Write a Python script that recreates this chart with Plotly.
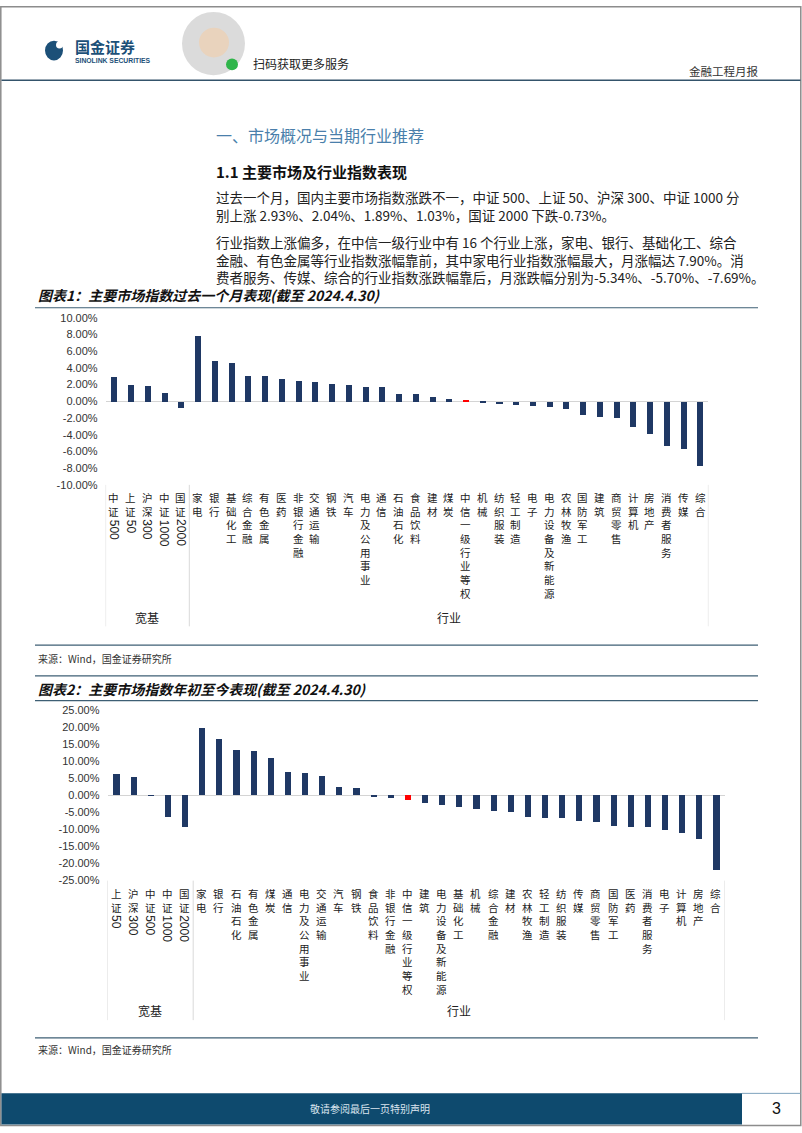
import re
import plotly.graph_objects as go

W, H = 802, 1133


def px(x):
    return x / W


def py(y):
    return 1 - y / H


# ---------------- data ----------------
c1_broad = ["中证500", "上证50", "沪深300", "中证1000", "国证2000"]
c1_broad_vals = [2.93, 2.04, 1.89, 1.03, -0.73]
c1_ind = ["家电", "银行", "基础化工", "综合金融", "有色金属", "医药", "非银行金融", "交通运输",
          "钢铁", "汽车", "电力及公用事业", "通信", "石油石化", "食品饮料", "建材", "煤炭",
          "中信一级行业等权", "机械", "纺织服装", "轻工制造", "电子", "电力设备及新能源",
          "农林牧渔", "国防军工", "建筑", "商贸零售", "计算机", "房地产", "消费者服务", "传媒", "综合"]
c1_ind_vals = [7.90, 4.85, 4.62, 3.08, 3.05, 2.72, 2.49, 2.37, 2.13, 1.97, 1.78, 1.75, 0.95, 0.90,
               0.50, 0.30, 0.08, -0.12, -0.25, -0.35, -0.50, -0.65, -0.88, -1.60, -1.85, -1.95,
               -3.02, -3.90, -5.34, -5.70, -7.69]

c2_broad = ["上证50", "沪深300", "中证500", "中证1000", "国证2000"]
c2_broad_vals = [6.2, 5.3, -0.05, -6.4, -9.3]
c2_ind = ["家电", "银行", "石油石化", "有色金属", "煤炭", "通信", "电力及公用事业", "交通运输",
          "汽车", "钢铁", "食品饮料", "非银行金融", "中信一级行业等权", "建筑", "电力设备及新能源",
          "基础化工", "机械", "综合金融", "建材", "农林牧渔", "轻工制造", "纺织服装", "传媒",
          "商贸零售", "国防军工", "医药", "消费者服务", "电子", "计算机", "房地产", "综合"]
c2_ind_vals = [19.8, 16.4, 13.1, 12.85, 10.8, 6.8, 6.4, 5.6, 2.4, 2.0, -0.3, -0.8, -1.55, -2.3,
               -2.9, -3.5, -4.1, -4.6, -4.9, -6.4, -6.7, -6.8, -7.5, -7.8, -9.0, -9.3, -9.35,
               -10.4, -11.3, -12.85, -22.1]

y1_ticks = [10, 8, 6, 4, 2, 0, -2, -4, -6, -8, -10]
y2_ticks = [25, 20, 15, 10, 5, 0, -5, -10, -15, -20, -25]
highlight = "中信一级行业等权"
group_names = ["宽基", "行业"]

NAVY = "#1f3864"
RED = "#ff0000"
RULE = "#3e5f74"
CJK = "Noto Sans CJK SC"
SANS = "Liberation Sans"

fig = go.Figure()

cats1 = c1_broad + c1_ind
vals1 = c1_broad_vals + c1_ind_vals
cats2 = c2_broad + c2_ind
vals2 = c2_broad_vals + c2_ind_vals

fig.add_trace(go.Bar(x=cats1, y=vals1, width=0.36,
                     marker=dict(color=[RED if c == highlight else NAVY for c in cats1], line_width=0),
                     xaxis="x", yaxis="y", showlegend=False, hoverinfo="x+y"))
fig.add_trace(go.Bar(x=cats2, y=vals2, width=0.36,
                     marker=dict(color=[RED if c == highlight else NAVY for c in cats2], line_width=0),
                     xaxis="x2", yaxis="y2", showlegend=False, hoverinfo="x+y"))

ytick_font = dict(family=SANS, size=11, color="#333333")
common_x = dict(type="category", showticklabels=False, showgrid=False, zeroline=False,
                showline=False, ticks="", range=[-0.5, 35.5])
common_y = dict(showgrid=False, zeroline=True, zerolinecolor="#d4d4d4", zerolinewidth=1,
                showline=False, ticks="", ticklabelstandoff=7, tickfont=ytick_font)

fig.update_layout(
    width=W, height=H, margin=dict(l=0, r=0, t=0, b=0),
    paper_bgcolor="white", plot_bgcolor="rgba(0,0,0,0)",
    font=dict(family=CJK, color="#222222"),
    xaxis=dict(**common_x, domain=[px(105.6), px(708.4)], anchor="y"),
    yaxis=dict(**common_y, domain=[py(484), py(315)], range=[-10, 10], anchor="x",
               tickvals=y1_ticks, ticktext=[f"{v:.2f}%" for v in y1_ticks]),
    xaxis2=dict(**common_x, domain=[px(107.5), px(724.5)], anchor="y2"),
    yaxis2=dict(**common_y, domain=[py(883.6), py(711.7)], range=[-25, 25], anchor="x2",
                tickvals=y2_ticks, ticktext=[f"{v:.2f}%" for v in y2_ticks]),
    bargap=0,
)

ann = []
shapes = []


def text(x, y, t, size, color="#222222", family=CJK, xanchor="left", yanchor="middle", **kw):
    ann.append(dict(x=x, y=y, xref="paper", yref="paper", text=t, showarrow=False,
                    xanchor=xanchor, yanchor=yanchor, borderpad=0,
                    font=dict(family=family, size=size, color=color), **kw))


def hline(y, x0, x1, color=RULE, width=1.2):
    shapes.append(dict(type="line", xref="paper", yref="paper", x0=px(x0), x1=px(x1),
                       y0=py(y), y1=py(y), line=dict(color=color, width=width)))


LAB_SIZE = 10.5
PITCH = LAB_SIZE * 1.3


def add_labels(xref, cats, top):
    for c in cats:
        m = re.match(r"(\D*)(\d*)", c)
        han, dig = m.group(1), m.group(2)
        y = top
        if han:
            ann.append(dict(x=c, xref=xref, y=py(y), yref="paper", text="<br>".join(han),
                            showarrow=False, xanchor="center", yanchor="top", borderpad=0,
                            align="center", font=dict(family=CJK, size=LAB_SIZE, color="#222222")))
            y += PITCH * len(han) + 2.5
        if dig:
            h = 6.7 * len(dig)
            ann.append(dict(x=c, xref=xref, y=py(y + h / 2 + 1), yref="paper", text=dig,
                            showarrow=False, textangle=90, xanchor="center", yanchor="middle",
                            borderpad=0, font=dict(family=SANS, size=12, color="#222222")))


add_labels("x", cats1, 488.5)
add_labels("x2", cats2, 888.5)

# group labels
for xref, ylab in (("x", 618), ("x2", 1015)):
    for xi, name in ((2, group_names[0]), (20, group_names[1])):
        ann.append(dict(x=xi, xref=xref, y=py(ylab), yref="paper", text=name, showarrow=False,
                        xanchor="center", yanchor="middle", borderpad=0,
                        font=dict(family=CJK, size=12, color="#222222")))

# separators
for xref, y0, y1 in (("x", 484, 627), ("x2", 884, 1025)):
    for xv in (-0.5, 4.5, 35.5):
        shapes.append(dict(type="line", xref=xref, yref="paper", x0=xv, x1=xv, y0=py(y1), y1=py(y0),
                           line=dict(color="#d9d9d9", width=1)))

# page border
shapes.append(dict(type="rect", xref="paper", yref="paper", x0=px(0.8), x1=px(800.8),
                   y0=py(1131.5), y1=py(0.8), line=dict(color="#8c8c8c", width=1.5)))

# header
hline(75, 1.5, 800.5, color="#34536b", width=1.5)
shapes.append(dict(type="circle", xref="paper", yref="paper", x0=px(45), x1=px(63), y0=py(55),
                   y1=py(35), fillcolor="#1c5078", line_width=0))
shapes.append(dict(type="circle", xref="paper", yref="paper", x0=px(56), x1=px(63), y0=py(43),
                   y1=py(36), fillcolor="white", line_width=0))
text(px(74), py(41), "<b>国金证券</b>", 15, color="#1c5078")
text(px(74), py(55.5), "<b>SINOLINK SECURITIES</b>", 6.8, color="#1c5078", family=SANS)
shapes.append(dict(type="circle", xref="paper", yref="paper", x0=px(182), x1=px(245), y0=py(70),
                   y1=py(6), fillcolor="#b8b8b8", opacity=0.5, line_width=0))
shapes.append(dict(type="circle", xref="paper", yref="paper", x0=px(199), x1=px(229), y0=py(52),
                   y1=py(22), fillcolor="#e9d3bd", line_width=0))
shapes.append(dict(type="circle", xref="paper", yref="paper", x0=px(226), x1=px(238), y0=py(65),
                   y1=py(53), fillcolor="#2fb54a", line_width=0))
text(px(252), py(58), "扫码获取更多服务", 12, color="#222222")
text(px(759), py(65.5), "金融工程月报", 11.5, color="#333333", xanchor="right")

# section text
text(px(215), py(130), "一、市场概况与当期行业推荐", 16, color="#4a7fab")
text(px(215), py(167), "<b>1.1 主要市场及行业指数表现</b>", 15, color="#111111")
para1 = ["过去一个月，国内主要市场指数涨跌不一，中证 500、上证 50、沪深 300、中证 1000 分",
         "别上涨 2.93%、2.04%、1.89%、1.03%，国证 2000 下跌-0.73%。"]
para2 = ["行业指数上涨偏多，在中信一级行业中有 16 个行业上涨，家电、银行、基础化工、综合",
         "金融、有色金属等行业指数涨幅靠前，其中家电行业指数涨幅最大，月涨幅达 7.90%。消",
         "费者服务、传媒、综合的行业指数涨跌幅靠后，月涨跌幅分别为-5.34%、-5.70%、-7.69%。"]
PS = 13.5
for first_y, lines in ((191, para1), (236, para2)):
    text(px(215), py(first_y - PS * 0.65), "<br>".join(lines), PS, color="#222222",
         yanchor="top", align="left")

# chart titles, rules, sources
text(px(37), py(292), "<b><i>图表1：主要市场指数过去一个月表现(截至 2024.4.30)</i></b>", 14, color="#111111")
hline(305, 35, 758)
hline(646, 35, 758)
text(px(37), py(659), "来源：Wind，国金证券研究所", 10, color="#333333")
hline(677, 35, 758)
text(px(37), py(690), "<b><i>图表2：主要市场指数年初至今表现(截至 2024.4.30)</i></b>", 14, color="#111111")
hline(702, 35, 758)
hline(1043, 35, 758)
text(px(37), py(1055), "来源：Wind，国金证券研究所", 10, color="#333333")

# footer
shapes.append(dict(type="rect", xref="paper", yref="paper", x0=px(1.5), x1=px(742), y0=py(1130.5),
                   y1=py(1099), fillcolor="#0e4a6e", line_width=0))
hline(1099, 742, 800.5, color="#7fa3bd", width=1)
text(px(370), py(1114.5), "敬请参阅最后一页特别声明", 10, color="#dbe5ee", xanchor="center")
text(px(776), py(1114), "3", 16, color="#111111", family=SANS, xanchor="center")

fig.update_layout(annotations=ann, shapes=shapes)
fig.write_html("out.html")
